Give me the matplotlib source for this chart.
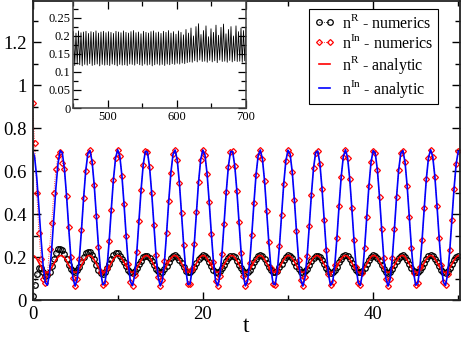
import numpy as np
import matplotlib
matplotlib.use("Agg")
import matplotlib.pyplot as plt
from matplotlib.ticker import MultipleLocator, FuncFormatter

plt.rcParams['font.family'] = ['Liberation Serif', 'DejaVu Serif']
plt.rcParams['mathtext.fontset'] = 'custom'
plt.rcParams['mathtext.rm'] = 'Liberation Serif'

# time grid of the main panel (step 0.25)
t = np.linspace(0, 50, 201)

# n^In analytic (blue)
n_in_analytic = [
    0.700, 0.665, 0.570, 0.433, 0.286, 0.159, 0.081, 0.069, 0.124, 0.236,
    0.380, 0.524, 0.637, 0.696, 0.686, 0.610, 0.485, 0.338, 0.200, 0.102,
    0.065, 0.097, 0.190, 0.326, 0.474, 0.602, 0.682, 0.697, 0.644, 0.534,
    0.391, 0.247, 0.131, 0.071, 0.078, 0.151, 0.274, 0.421, 0.560, 0.660,
    0.700, 0.671, 0.579, 0.445, 0.297, 0.168, 0.085, 0.067, 0.117, 0.225,
    0.368, 0.513, 0.630, 0.693, 0.689, 0.618, 0.497, 0.350, 0.210, 0.108,
    0.066, 0.092, 0.181, 0.314, 0.462, 0.593, 0.678, 0.699, 0.651, 0.545,
    0.404, 0.258, 0.139, 0.073, 0.075, 0.143, 0.263, 0.409, 0.550, 0.654,
    0.699, 0.676, 0.588, 0.457, 0.309, 0.177, 0.089, 0.066, 0.111, 0.215,
    0.356, 0.502, 0.622, 0.691, 0.692, 0.626, 0.508, 0.362, 0.220, 0.114,
    0.066, 0.087, 0.172, 0.303, 0.450, 0.584, 0.673, 0.699, 0.657, 0.555,
    0.415, 0.269, 0.147, 0.076, 0.072, 0.135, 0.252, 0.397, 0.540, 0.648,
    0.698, 0.680, 0.597, 0.468, 0.320, 0.186, 0.094, 0.065, 0.105, 0.205,
    0.344, 0.491, 0.614, 0.687, 0.694, 0.634, 0.518, 0.374, 0.231, 0.121,
    0.068, 0.083, 0.163, 0.291, 0.439, 0.574, 0.668, 0.700, 0.663, 0.565,
    0.427, 0.280, 0.155, 0.079, 0.069, 0.128, 0.241, 0.385, 0.529, 0.641,
    0.696, 0.684, 0.606, 0.480, 0.332, 0.196, 0.100, 0.065, 0.099, 0.195,
    0.332, 0.479, 0.606, 0.684, 0.696, 0.641, 0.529, 0.386, 0.241, 0.128,
    0.069, 0.079, 0.155, 0.280, 0.427, 0.565, 0.663, 0.700, 0.668, 0.575,
    0.439, 0.291, 0.163, 0.083, 0.068, 0.121, 0.231, 0.374, 0.518, 0.634,
    0.694,
]

# n^R analytic (red)
n_r_analytic = [
    0.208, 0.204, 0.192, 0.174, 0.156, 0.140, 0.130, 0.128, 0.135, 0.150,
    0.168, 0.186, 0.200, 0.207, 0.206, 0.197, 0.181, 0.162, 0.145, 0.133,
    0.128, 0.132, 0.144, 0.161, 0.179, 0.196, 0.206, 0.208, 0.201, 0.187,
    0.169, 0.151, 0.136, 0.129, 0.130, 0.139, 0.154, 0.173, 0.190, 0.203,
    0.208, 0.204, 0.193, 0.176, 0.157, 0.141, 0.131, 0.128, 0.135, 0.148,
    0.166, 0.184, 0.199, 0.207, 0.207, 0.198, 0.182, 0.164, 0.146, 0.133,
    0.128, 0.131, 0.143, 0.159, 0.178, 0.194, 0.205, 0.208, 0.202, 0.188,
    0.171, 0.152, 0.137, 0.129, 0.129, 0.138, 0.153, 0.171, 0.189, 0.202,
    0.208, 0.205, 0.194, 0.177, 0.159, 0.142, 0.131, 0.128, 0.134, 0.147,
    0.165, 0.183, 0.198, 0.207, 0.207, 0.199, 0.184, 0.165, 0.148, 0.134,
    0.128, 0.131, 0.141, 0.158, 0.177, 0.193, 0.205, 0.208, 0.203, 0.190,
    0.172, 0.154, 0.138, 0.129, 0.129, 0.137, 0.152, 0.170, 0.188, 0.201,
    0.208, 0.205, 0.195, 0.179, 0.160, 0.143, 0.132, 0.128, 0.133, 0.146,
    0.163, 0.182, 0.197, 0.206, 0.207, 0.200, 0.185, 0.167, 0.149, 0.135,
    0.128, 0.130, 0.140, 0.156, 0.175, 0.192, 0.204, 0.208, 0.203, 0.191,
    0.174, 0.155, 0.139, 0.130, 0.129, 0.136, 0.150, 0.168, 0.186, 0.201,
    0.208, 0.206, 0.196, 0.180, 0.162, 0.144, 0.132, 0.128, 0.132, 0.144,
    0.162, 0.180, 0.196, 0.206, 0.208, 0.201, 0.186, 0.168, 0.150, 0.136,
    0.129, 0.130, 0.139, 0.155, 0.174, 0.191, 0.203, 0.208, 0.204, 0.192,
    0.175, 0.157, 0.140, 0.130, 0.128, 0.135, 0.149, 0.167, 0.185, 0.200,
    0.207,
]

# numerics: early transient, afterwards they sit on the analytic curves
n_r_num_start = [
    0.020, 0.070, 0.120, 0.150, 0.150, 0.130, 0.110, 0.115, 0.130, 0.160,
    0.190, 0.220, 0.238, 0.240, 0.232, 0.215, 0.190, 0.165, 0.145, 0.133,
    0.132, 0.140, 0.155, 0.175, 0.200, 0.218, 0.225, 0.222, 0.210, 0.190,
    0.165, 0.140, 0.125, 0.120, 0.130, 0.150, 0.170, 0.190, 0.210, 0.218,
    0.217,
]
n_in_num_start = [
    0.920, 0.730, 0.500, 0.310, 0.190, 0.100, 0.080, 0.120, 0.240, 0.360,
    0.500, 0.610, 0.670, 0.690, 0.640,
]
n_r_num = n_r_num_start + n_r_analytic[len(n_r_num_start):]
n_in_num = n_in_num_start + n_in_analytic[len(n_in_num_start):]

# inset: long-time n^R, alternating maxima / minima
inset_peaks = [
    0.212, 0.208, 0.214, 0.209, 0.211, 0.213, 0.207, 0.212, 0.210, 0.214,
    0.208, 0.211, 0.213, 0.209, 0.212, 0.210, 0.207, 0.213, 0.211, 0.209,
    0.214, 0.210, 0.208, 0.212, 0.215, 0.209, 0.211, 0.206, 0.213, 0.210,
    0.208, 0.212, 0.214, 0.209, 0.211, 0.207, 0.213, 0.210, 0.215, 0.208,
    0.212, 0.205, 0.214, 0.210, 0.203, 0.218, 0.208,
    0.222, 0.200, 0.226, 0.234, 0.204, 0.215, 0.228, 0.198, 0.220, 0.210,
    0.230, 0.202, 0.224, 0.233, 0.206, 0.218, 0.226, 0.200, 0.228, 0.212,
    0.222, 0.215, 0.225,
]
inset_troughs = [
    0.118, 0.122, 0.120, 0.117, 0.121, 0.119, 0.123, 0.118, 0.120, 0.122,
    0.117, 0.121, 0.119, 0.120, 0.118, 0.122, 0.120, 0.117, 0.121, 0.119,
    0.120, 0.118, 0.122, 0.121, 0.119, 0.123, 0.120, 0.118, 0.122, 0.119,
    0.121, 0.117, 0.120, 0.122, 0.119, 0.121, 0.118, 0.122, 0.120, 0.123,
    0.121, 0.124, 0.122, 0.125, 0.123, 0.126, 0.128,
    0.127, 0.131, 0.128, 0.133, 0.129, 0.130, 0.127, 0.132, 0.128, 0.131,
    0.126, 0.133, 0.129, 0.130, 0.127, 0.132, 0.128, 0.131, 0.129, 0.130,
    0.127, 0.131,
]
inset_vals = np.empty(len(inset_peaks) + len(inset_troughs))
inset_vals[0::2] = inset_peaks
inset_vals[1::2] = inset_troughs
inset_t = np.linspace(450, 700, len(inset_vals))

fig = plt.figure(figsize=(4.63, 3.39), dpi=100)
ax = fig.add_axes([0.0702, 0.115, 0.9233, 0.882])

ax.plot(t, n_r_num, color='black', ls=':', lw=0.6, marker='o', ms=4.0,
        mfc='none', mec='black', mew=0.9, label=r'n$^{\rm R}$ - numerics')
ax.plot(t, n_in_num, color='red', ls=':', lw=0.6, marker='D', ms=3.0,
        mfc='none', mec='red', mew=0.9, label=r'n$^{\rm In}$ - numerics')
ax.plot(t, n_r_analytic, color='red', lw=1.2, label=r'n$^{\rm R}$ - analytic')
ax.plot(t, n_in_analytic, color='blue', lw=1.2, label=r'n$^{\rm In}$ - analytic')

ax.set_xlim(0, 50.2)
ax.set_ylim(0, 1.393)
ax.xaxis.set_major_locator(MultipleLocator(20))
ax.xaxis.set_minor_locator(MultipleLocator(10))
ax.yaxis.set_major_locator(MultipleLocator(0.2))
ax.yaxis.set_minor_locator(MultipleLocator(0.1))
ax.yaxis.set_major_formatter(FuncFormatter(lambda v, p: '%g' % round(v, 2)))
ax.tick_params(which='both', direction='in', top=True, right=True, labelsize=13.5, pad=4)
ax.tick_params(which='major', length=6, width=1)
ax.tick_params(which='minor', length=3.5, width=1)
for s in ax.spines.values():
    s.set_linewidth(1.3)
    s.set_color('#222222')
ax.set_xlabel('t', fontsize=17, labelpad=-5)

leg = ax.legend(loc='upper right', bbox_to_anchor=(0.9485, 0.973), borderaxespad=0,
                fontsize=11.5, numpoints=2, handlelength=1.3, handletextpad=0.45,
                labelspacing=0.12, borderpad=0.3, fancybox=False, framealpha=1)
leg.get_frame().set_edgecolor('black')
leg.get_frame().set_linewidth(0.8)

ins = fig.add_axes([0.1587, 0.6814, 0.3726, 0.3156])
ins.plot(inset_t, inset_vals, color='black', lw=0.6)
ins.set_xlim(450, 700)
ins.set_ylim(0, 0.297)
ins.xaxis.set_major_locator(MultipleLocator(100))
ins.xaxis.set_minor_locator(MultipleLocator(50))
ins.yaxis.set_major_locator(MultipleLocator(0.05))
ins.yaxis.set_minor_locator(MultipleLocator(0.025))
ins.yaxis.set_major_formatter(FuncFormatter(lambda v, p: '%g' % round(v, 3)))
ins.tick_params(which='both', direction='in', top=True, right=True, labelsize=9, pad=2)
ins.tick_params(which='major', length=6, width=0.9)
ins.tick_params(which='minor', length=3.5, width=0.9)
for s in ins.spines.values():
    s.set_linewidth(1.1)
    s.set_color('#444444')

fig.savefig('out.png', dpi=100)
